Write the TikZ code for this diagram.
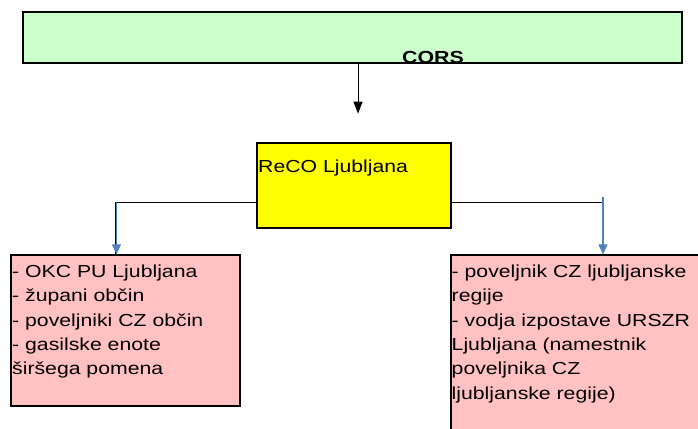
\documentclass[tikz,border=0pt]{standalone}
\usepackage{fontspec}
\setmainfont{Liberation Sans}[FakeStretch=1.22]
\usetikzlibrary{arrows.meta}
\definecolor{corsgreen}{HTML}{CCFFCC}
\definecolor{recoyellow}{HTML}{FFFF00}
\definecolor{boxpink}{HTML}{FFC1C1}
\definecolor{arrowblue}{HTML}{4F81BD}
\tikzset{
  box/.style={draw=black, line width=1.3pt, inner sep=0pt, rectangle},
  txt/.style={font=\fontsize{17.4}{24.4}\selectfont, align=left, inner sep=0pt},
  conn/.style={draw=black, line width=1pt},
  bluearrow/.style={draw=arrowblue, line width=1.1pt, -{Triangle[width=9pt,length=10pt]}},
  blackarrow/.style={draw=black, line width=1pt, -{Triangle[width=9pt,length=12pt]}}
}
\begin{document}
\begin{tikzpicture}[x=1pt,y=-1pt]
\useasboundingbox (0,0) rectangle (698,428);
\clip (0,0) rectangle (698,428);
\fill[white] (0,0) rectangle (698,428);
% boxes
\node[box, fill=corsgreen, minimum width=659pt, minimum height=51pt] (cors) at (352.5,37.5) {};
\node[box, fill=recoyellow, minimum width=194pt, minimum height=85pt] (reco) at (354,185.5) {};
\node[box, fill=boxpink, minimum width=229pt, minimum height=151pt] (left) at (125.5,330.5) {};
\node[box, fill=boxpink, minimum width=260pt, minimum height=180pt] (right) at (581,345) {};
% labels
\node[txt, font=\fontsize{17.5}{20}\selectfont\bfseries, anchor=base west] (corslabel) at (402,63.5) {CORS};
\node[txt, anchor=base west] (recolabel) at (258,172) {ReCO Ljubljana};
\node[txt, anchor=north west] (lefttext) at (12,264.4) {- OKC PU Ljubljana\\- župani občin\\- poveljniki CZ občin\\- gasilske enote\\širšega pomena};
\node[txt, anchor=north west] (righttext) at (451.5,264.4) {- poveljnik CZ ljubljanske\\regije\\- vodja izpostave URSZR\\Ljubljana (namestnik\\poveljnika CZ\\ljubljanske regije)};
% connectors
\coordinate (corsend) at ([xshift=5.5pt,yshift=-50pt]cors.south);
\draw[blackarrow] ([xshift=5.5pt]cors.south) -- (corsend);
\coordinate (rl) at ([yshift=-16.5pt]reco.west);
\coordinate (rr) at ([yshift=-16.5pt]reco.east);
\draw[conn] (rl) -| ([xshift=-9.8pt]left.north);
\draw[bluearrow] ([xshift=-9pt]left.north |- rl) -- ([xshift=-9pt]left.north);
\draw[conn] (rr) -- ([xshift=22pt]right.north |- rr);
\draw[bluearrow] ([xshift=22pt,yshift=5pt]right.north |- rr) -- ([xshift=22pt]right.north);
\end{tikzpicture}
\end{document}
